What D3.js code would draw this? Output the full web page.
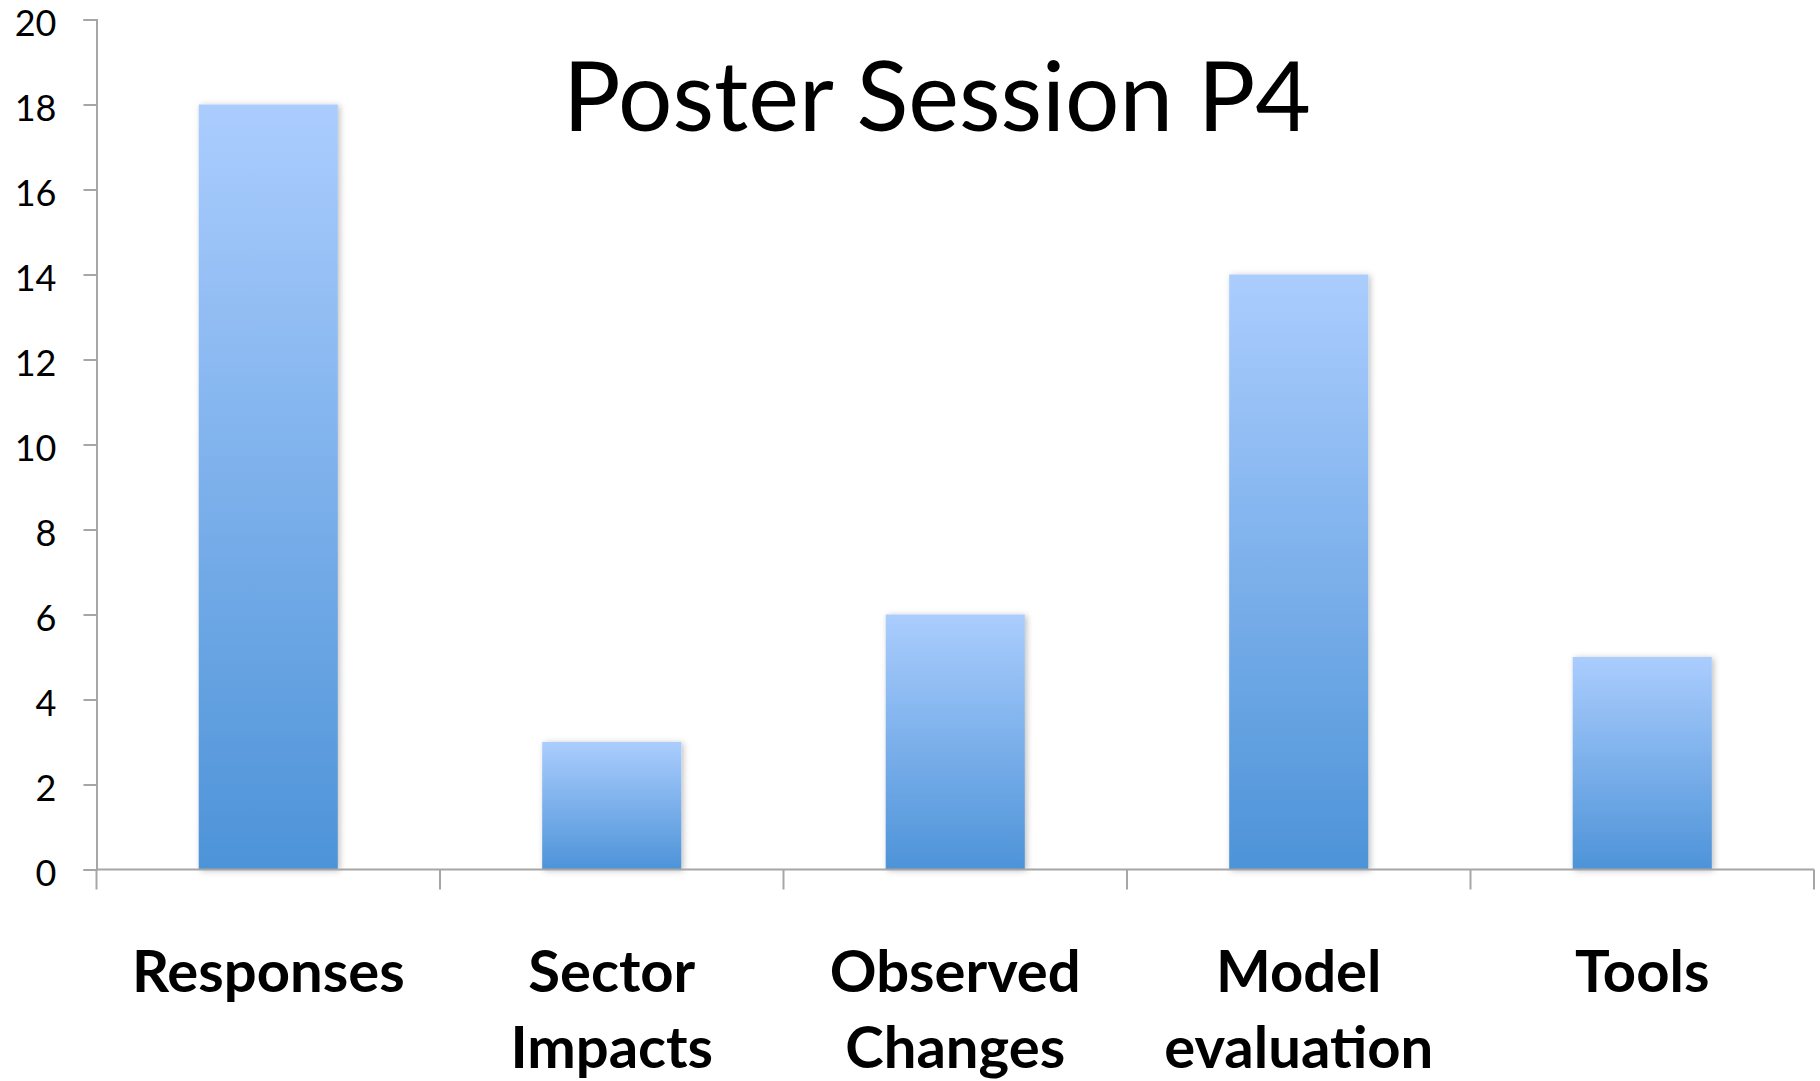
<!DOCTYPE html>
<html>
<head>
<meta charset="utf-8">
<script src="https://cdn.jsdelivr.net/npm/d3@7"></script>
<style>
html,body{margin:0;padding:0;background:#fff;}
svg{display:block;}
</style>
</head>
<body>
<script>
const title = "Poster Session P4";
const categories = [["Responses"], ["Sector", "Impacts"], ["Observed", "Changes"], ["Model", "evaluation"], ["Tools"]];
const values = [18, 3, 6, 14, 5];
const yTicks = [0, 2, 4, 6, 8, 10, 12, 14, 16, 18, 20];

const W = 1820, H = 1081;
const mLeft = 96.5, mRight = 1814, mTop = 19.5, mBottom = 869.5;

const svg = d3.select("body").append("svg").attr("width", W).attr("height", H);
const defs = svg.append("defs");
const grad = defs.append("linearGradient").attr("id", "barGrad")
  .attr("x1", 0).attr("y1", 0).attr("x2", 0).attr("y2", 1);
grad.append("stop").attr("offset", "0%").attr("stop-color", "#abcdfe");
grad.append("stop").attr("offset", "100%").attr("stop-color", "#4d93d8");
const f = defs.append("filter").attr("id", "shadow").attr("x", "-10%").attr("y", "-10%").attr("width", "130%").attr("height", "120%");
f.append("feDropShadow").attr("dx", 2).attr("dy", 1).attr("stdDeviation", 3).attr("flood-color", "#000").attr("flood-opacity", 0.25);

const x = d3.scaleBand().domain(d3.range(categories.length)).range([mLeft, mRight]).paddingInner(0.595).paddingOuter(0.2975);
const xb = d3.scaleBand().domain(d3.range(categories.length)).range([mLeft, mRight]);
const y = d3.scaleLinear().domain([0, 20]).range([mBottom, mTop]);

// bars
svg.append("g").selectAll("rect").data(values).join("rect")
  .attr("x", (d, i) => x(i))
  .attr("width", x.bandwidth())
  .attr("y", d => y(d))
  .attr("height", d => y(0) - y(d))
  .attr("fill", "url(#barGrad)")
  .attr("filter", "url(#shadow)");

// y axis
const yAxis = d3.axisLeft(y).tickValues(yTicks).tickSize(13).tickPadding(27).tickSizeOuter(13);
const gy = svg.append("g").attr("transform", `translate(${mLeft},0)`).call(yAxis);
gy.select(".domain").attr("stroke", "#a6a6a6").attr("stroke-width", 2);
gy.selectAll(".tick line").attr("stroke", "#a6a6a6").attr("stroke-width", 2);
gy.selectAll(".tick text").attr("font-family", "Lato, 'Open Sans', sans-serif").attr("font-size", 36)
  .attr("dy", "0.45em").attr("fill", "#000");

// x axis
const gx = svg.append("g");
gx.append("line").attr("x1", mLeft).attr("x2", mRight).attr("y1", mBottom).attr("y2", mBottom)
  .attr("stroke", "#a6a6a6").attr("stroke-width", 2);
const bounds = d3.range(categories.length + 1).map(i => i < categories.length ? xb(i) : mRight);
gx.selectAll("line.tk").data(bounds).join("line").attr("class", "tk")
  .attr("x1", d => d).attr("x2", d => d).attr("y1", mBottom).attr("y2", mBottom + 20)
  .attr("stroke", "#a6a6a6").attr("stroke-width", 2);

const labels = svg.append("g").attr("font-family", "Lato, 'Open Sans', sans-serif").attr("font-weight", "bold")
  .attr("font-size", 58).attr("text-anchor", "middle").attr("fill", "#000");
categories.forEach((lines, i) => {
  const t = labels.append("text").attr("x", xb(i) + xb.bandwidth() / 2);
  lines.forEach((ln, j) => {
    t.append("tspan").attr("x", xb(i) + xb.bandwidth() / 2).attr("y", 992 + j * 76).text(ln);
  });
});

// title
svg.append("text").attr("x", 937).attr("y", 131).attr("text-anchor", "middle")
  .attr("font-family", "Lato, 'Open Sans', sans-serif").attr("font-size", 96).attr("fill", "#000")
  .text(title);
</script>
</body>
</html>
